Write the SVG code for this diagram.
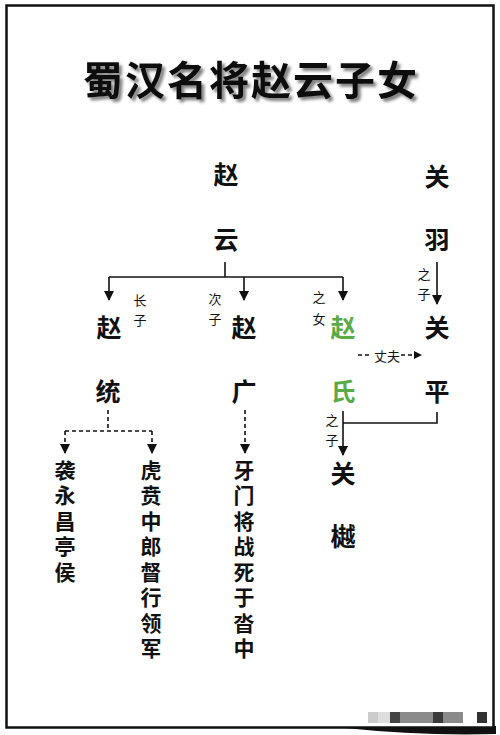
<svg xmlns="http://www.w3.org/2000/svg" width="500" height="735" viewBox="0 0 500 735">
<defs>
<style>
.t{font-family:"Noto Sans CJK SC","Noto Sans CJK TC",sans-serif;text-anchor:middle;dominant-baseline:central;fill:#111}
.n{font-size:25px;font-weight:bold}
.g{fill:#5aab48}
.s{font-size:13px;font-weight:normal}
.v{font-family:"Noto Sans CJK SC","Noto Sans CJK TC",sans-serif;font-size:21px;font-weight:bold;fill:#111;writing-mode:vertical-rl;text-anchor:start;letter-spacing:4.5px}
.l{stroke:#111;stroke-width:1.6;fill:none}
.d{stroke:#111;stroke-width:1.6;fill:none;stroke-dasharray:4 3}
</style>
<marker id="ah" markerUnits="userSpaceOnUse" markerWidth="10" markerHeight="10" refX="9" refY="5" orient="auto" viewBox="0 0 10 10">
<path d="M0,0 L10,5 L0,10 Z" fill="#111"/>
</marker>
<marker id="ahr" markerUnits="userSpaceOnUse" markerWidth="8" markerHeight="8" refX="8" refY="4" orient="auto" viewBox="0 0 8 8">
<path d="M0,0 L8,4 L0,8 Z" fill="#111"/>
</marker>
<filter id="sh" x="-5%" y="-20%" width="115%" height="150%">
<feGaussianBlur in="SourceAlpha" stdDeviation="1.5"/>
<feOffset dx="3" dy="3" result="b"/>
<feComponentTransfer><feFuncA type="linear" slope="0.5"/></feComponentTransfer>
<feMerge><feMergeNode/><feMergeNode in="SourceGraphic"/></feMerge>
</filter>
</defs>
<rect width="500" height="735" fill="#fff"/>
<path d="M333,723 Q420,728 496,726 L496,734 Q420,736 345,728 Z" fill="#111"/>
<rect x="6.5" y="5.5" width="487" height="722" fill="#fff" stroke="#111" stroke-width="2.5"/>
<g id="watermark">
<rect x="368" y="712" width="10" height="11" fill="#ccc"/>
<rect x="378" y="712" width="12" height="11" fill="#ddd"/>
<rect x="390" y="712" width="10" height="11" fill="#444"/>
<rect x="400" y="712" width="33" height="11" fill="#8a8a8a"/>
<rect x="433" y="712" width="10" height="11" fill="#3a3a3a"/>
<rect x="443" y="712" width="20" height="11" fill="#8a8a8a"/>
<rect x="477" y="712" width="10" height="11" fill="#333"/>
</g>
<g id="title"><text class="t" x="251" y="78" font-size="40" font-weight="bold" letter-spacing="2" filter="url(#sh)">蜀汉名将赵云子女</text></g>

<g id="connectors">
<path class="l" d="M225,262 V277"/>
<path class="l" d="M109,277 H343"/>
<path class="l" d="M109,277 V300" marker-end="url(#ah)"/>
<path class="l" d="M244,277 V300" marker-end="url(#ah)"/>
<path class="l" d="M343,277 V300" marker-end="url(#ah)"/>
<path class="l" d="M437,262 V304" marker-end="url(#ah)"/>
<path class="d" d="M358,355 H372"/>
<path class="d" d="M401,355 H422" marker-end="url(#ahr)"/>
<path class="l" d="M437,412 V423 H343"/>
<path class="l" d="M343,411 V455" marker-end="url(#ah)"/>
<path class="d" d="M108,410 V431"/>
<path class="d" d="M65,431 H152"/>
<path class="d" d="M65,431 V453" marker-end="url(#ah)"/>
<path class="d" d="M152,431 V453" marker-end="url(#ah)"/>
<path class="d" d="M245,410 V453" marker-end="url(#ah)"/>
<text class="t s" x="140" y="299">长</text><text class="t s" x="140" y="319">子</text>
<text class="t s" x="215" y="298">次</text><text class="t s" x="215" y="318">子</text>
<text class="t s" x="319" y="296">之</text><text class="t s" x="319" y="318">女</text>
<text class="t s" x="424" y="273">之</text><text class="t s" x="424" y="293">子</text>
<text class="t s" x="387" y="355">丈夫</text>
<text class="t s" x="332" y="419">之</text><text class="t s" x="332" y="439">子</text>
</g>

<g id="zhaoyun"><text class="t n" x="226" y="173">赵</text><text class="t n" x="226" y="238">云</text></g>
<g id="guanyu"><text class="t n" x="437" y="175">关</text><text class="t n" x="437" y="238">羽</text></g>
<g id="zhaotong"><text class="t n" x="109" y="326">赵</text><text class="t n" x="108" y="390">统</text></g>
<g id="zhaoguang"><text class="t n" x="244" y="326">赵</text><text class="t n" x="244" y="390">广</text></g>
<g id="zhaoshi"><text class="t n g" x="343" y="326">赵</text><text class="t n g" x="343" y="390">氏</text></g>
<g id="guanping"><text class="t n" x="437" y="326">关</text><text class="t n" x="437" y="390">平</text></g>
<g id="guanwei"><text class="t n" x="343" y="472">关</text><text class="t n" x="343" y="535">樾</text></g>
<g id="xiyong"><text class="v" x="65" y="459.5">袭永昌亭侯</text></g>
<g id="huben"><text class="v" x="151" y="459.5">虎贲中郎督行领军</text></g>
<g id="yamen"><text class="v" x="244" y="459.5">牙门将战死于沓中</text></g>
</svg>
